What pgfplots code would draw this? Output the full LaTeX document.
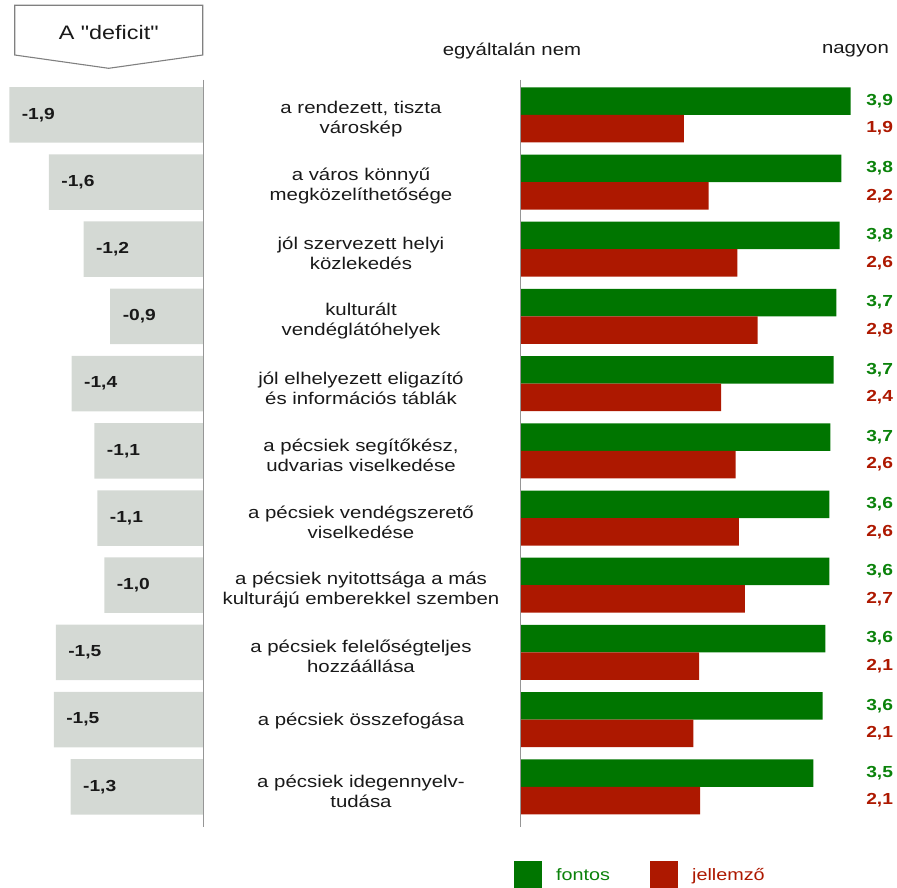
\documentclass[border=0pt]{standalone}
\usepackage{fontspec}
\setmainfont{Liberation Sans}[FakeStretch=1.2]
\newfontfamily\plainfont{Liberation Sans}[FakeStretch=1.2]
\usepackage{pgfplots}
\pgfplotsset{compat=1.18}
\definecolor{cgreen}{RGB}{0,117,0}
\definecolor{cgreentxt}{RGB}{10,130,10}
\definecolor{cred}{RGB}{173,24,0}
\definecolor{cgrey}{RGB}{212,217,212}
\definecolor{cline}{RGB}{150,150,150}
\newcommand\labfont{\fontsize{17}{20}\selectfont}
\newcommand\numfont{\fontsize{16}{19}\selectfont\bfseries}
\begin{document}
\begin{tikzpicture}
\path[use as bounding box] (0pt,0pt) rectangle (897pt,-888pt);
% header box
\draw[color={rgb,255:red,128;green,128;blue,128}, line width=1.1pt]
  (14.7pt,-5.3pt) -- (202.7pt,-5.3pt) -- (202.7pt,-55pt) -- (108.7pt,-68.3pt) -- (14.7pt,-55pt) -- cycle;
\node[font=\plainfont\fontsize{19.5}{22}\selectfont, text=black!90] at (108.7pt,-33pt) {A "deficit"};

% left: deficit
\begin{axis}[
  at={(5.3pt,-81.2pt)}, anchor=north west,
  scale only axis, width=198pt, height=739.2pt,
  xmin=-2, xmax=0, ymin=-0.5, ymax=10.5, y dir=reverse,
  hide axis, clip=false,
  xbar, bar width=55.5pt,
]
\addplot[fill=cgrey, draw=none, bar shift=0pt,
  nodes near coords, point meta=explicit symbolic,
  nodes near coords align={anchor=west},
  nodes near coords style={anchor=west, xshift=9pt, font=\numfont, text=black!90}]
  table[meta=l] {
x y l
-1.96 0 -1,9
-1.56 1 -1,6
-1.21 2 -1,2
-0.94 3 -0,9
-1.33 4 -1,4
-1.10 5 -1,1
-1.07 6 -1,1
-1.00 7 -1,0
-1.49 8 -1,5
-1.51 9 -1,5
-1.34 10 -1,3
};
\draw[cline, line width=1pt] (axis cs:0,-0.52) -- (axis cs:0,10.6);
\end{axis}

% right: fontos / jellemzo
\begin{axis}[
  at={(520.7pt,-81.2pt)}, anchor=north west,
  scale only axis, width=338.4pt, height=739.2pt,
  xmin=0, xmax=4, ymin=-0.5, ymax=10.5, y dir=reverse,
  hide axis, clip=false,
  xbar, bar width=27.5pt,
  legend columns=2,
  legend style={at={(-0.0198,-0.0739)}, anchor=west, draw=none, fill=none,
    inner sep=0pt, font=\fontsize{16.5}{19}\selectfont,
    nodes={inner sep=0pt, anchor=west},
    /tikz/every odd column/.append style={column sep=14pt},
    /tikz/every even column/.append style={column sep=40pt}},
]
\addplot[fill=cgreen, draw=none, bar shift=13.75pt,
  legend image code/.code={\fill[cgreen] (0pt,-14pt) rectangle (28pt,14pt);}]
  coordinates {(3.90,0) (3.79,1) (3.77,2) (3.73,3) (3.70,4) (3.66,5) (3.65,6) (3.65,7) (3.60,8) (3.57,9) (3.46,10)};
\addlegendentry{\textcolor{cgreentxt}{fontos}}
\addplot[fill=cred, draw=none, bar shift=-13.75pt,
  legend image code/.code={\fill[cred] (0pt,-14pt) rectangle (28pt,14pt);}]
  coordinates {(1.93,0) (2.22,1) (2.56,2) (2.80,3) (2.37,4) (2.54,5) (2.58,6) (2.65,7) (2.11,8) (2.04,9) (2.12,10)};
\addlegendentry{\textcolor{cred}{jellemző}}
\draw[cline, line width=1pt] (axis cs:0,-0.52) -- (axis cs:0,10.6);

% header texts
\node[font=\labfont, text=black!90] at (axis cs:-0.103,-0.95) {egyáltalán nem};
\node[font=\labfont, text=black!90] at (axis cs:3.957,-0.95) {nagyon};

% value labels
\node[anchor=west, font=\numfont, text=cgreentxt] at (axis cs:4.043,-0.205) {3,9};
\node[anchor=west, font=\numfont, text=cred] at (axis cs:4.043,0.205) {1,9};
\node[anchor=west, font=\numfont, text=cgreentxt] at (axis cs:4.043,0.795) {3,8};
\node[anchor=west, font=\numfont, text=cred] at (axis cs:4.043,1.205) {2,2};
\node[anchor=west, font=\numfont, text=cgreentxt] at (axis cs:4.043,1.795) {3,8};
\node[anchor=west, font=\numfont, text=cred] at (axis cs:4.043,2.205) {2,6};
\node[anchor=west, font=\numfont, text=cgreentxt] at (axis cs:4.043,2.795) {3,7};
\node[anchor=west, font=\numfont, text=cred] at (axis cs:4.043,3.205) {2,8};
\node[anchor=west, font=\numfont, text=cgreentxt] at (axis cs:4.043,3.795) {3,7};
\node[anchor=west, font=\numfont, text=cred] at (axis cs:4.043,4.205) {2,4};
\node[anchor=west, font=\numfont, text=cgreentxt] at (axis cs:4.043,4.795) {3,7};
\node[anchor=west, font=\numfont, text=cred] at (axis cs:4.043,5.205) {2,6};
\node[anchor=west, font=\numfont, text=cgreentxt] at (axis cs:4.043,5.795) {3,6};
\node[anchor=west, font=\numfont, text=cred] at (axis cs:4.043,6.205) {2,6};
\node[anchor=west, font=\numfont, text=cgreentxt] at (axis cs:4.043,6.795) {3,6};
\node[anchor=west, font=\numfont, text=cred] at (axis cs:4.043,7.205) {2,7};
\node[anchor=west, font=\numfont, text=cgreentxt] at (axis cs:4.043,7.795) {3,6};
\node[anchor=west, font=\numfont, text=cred] at (axis cs:4.043,8.205) {2,1};
\node[anchor=west, font=\numfont, text=cgreentxt] at (axis cs:4.043,8.795) {3,6};
\node[anchor=west, font=\numfont, text=cred] at (axis cs:4.043,9.205) {2,1};
\node[anchor=west, font=\numfont, text=cgreentxt] at (axis cs:4.043,9.795) {3,5};
\node[anchor=west, font=\numfont, text=cred] at (axis cs:4.043,10.205) {2,1};

% category labels
\tikzset{cat/.style={align=center, font=\labfont, text=black!90}}
\node[cat] at (axis cs:-1.888,0.065) {a rendezett, tiszta\\városkép};
\node[cat] at (axis cs:-1.888,1.065) {a város könnyű\\megközelíthetősége};
\node[cat] at (axis cs:-1.888,2.065) {jól szervezett helyi\\közlekedés};
\node[cat] at (axis cs:-1.888,3.065) {kulturált\\vendéglátóhelyek};
\node[cat] at (axis cs:-1.888,4.065) {jól elhelyezett eligazító\\és információs táblák};
\node[cat] at (axis cs:-1.888,5.065) {a pécsiek segítőkész,\\udvarias viselkedése};
\node[cat] at (axis cs:-1.888,6.065) {a pécsiek vendégszerető\\viselkedése};
\node[cat] at (axis cs:-1.888,7.065) {a pécsiek nyitottsága a más\\kulturájú emberekkel szemben};
\node[cat] at (axis cs:-1.888,8.065) {a pécsiek felelőségteljes\\hozzáállása};
\node[cat] at (axis cs:-1.888,9.02) {a pécsiek összefogása};
\node[cat] at (axis cs:-1.888,10.065) {a pécsiek idegennyelv-\\tudása};
\end{axis}
\end{tikzpicture}
\end{document}
